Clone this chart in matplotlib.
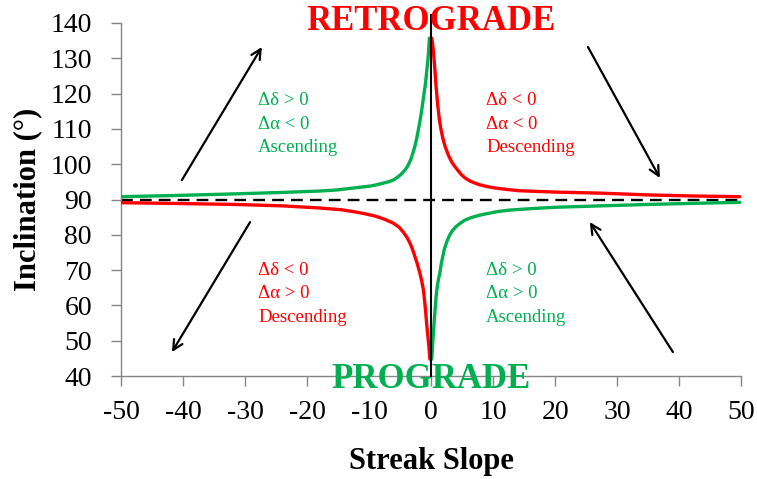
import matplotlib
matplotlib.use("Agg")
import matplotlib.pyplot as plt

plt.rcParams['font.family'] = ['Liberation Serif', 'DejaVu Serif']
plt.rcParams['axes.unicode_minus'] = False

# Streak slope vs. inclination, four branches
red_hi_x = [0.1, 0.25, 0.4, 0.6, 0.8, 1.05, 1.34, 1.6, 1.9, 2.26, 2.8, 3.33, 3.8, 4.3, 4.9, 5.48, 6.2, 7.0, 7.8, 8.7, 9.8, 11.0, 12.5, 14.1, 17.0, 20.0, 27.3, 35.0, 42.0, 49.8]
red_hi_y = [135.7, 134.0, 131.4, 127.0, 122.0, 117.0, 112.5, 109.8, 107.3, 105.0, 102.5, 100.6, 99.4, 98.3, 97.0, 96.1, 95.3, 94.7, 94.2, 93.8, 93.4, 93.1, 92.8, 92.5, 92.3, 92.1, 91.8, 91.3, 91.0, 90.8]

green_hi_x = [-50.0, -42.0, -31.6, -24.0, -18.0, -15.2, -12.3, -10.8, -9.8, -8.7, -7.8, -6.9, -6.1, -5.5, -5.0, -4.6, -4.2, -3.8, -3.5, -3.2, -2.95, -2.6, -2.3, -2.0, -1.77, -1.5, -1.3, -1.1, -0.97, -0.8, -0.7, -0.55, -0.43, -0.27]
green_hi_y = [90.8, 91.1, 91.6, 92.0, 92.4, 92.7, 93.3, 93.6, 93.8, 94.2, 94.6, 95.0, 95.5, 96.2, 96.9, 97.6, 98.4, 99.4, 100.5, 101.7, 103.1, 105.2, 107.5, 110.3, 112.5, 115.5, 118.0, 120.6, 122.0, 124.7, 126.5, 129.0, 131.4, 135.7]

red_lo_x = [-50.0, -42.0, -31.6, -24.0, -18.0, -14.5, -12.3, -10.5, -9.0, -7.5, -6.1, -5.2, -4.5, -3.9, -3.4, -3.0, -2.6, -2.2, -1.8, -1.5, -1.24, -1.1, -0.95, -0.83, -0.73, -0.6, -0.45, -0.3, -0.2]
red_lo_y = [89.1, 88.9, 88.6, 88.2, 87.6, 87.1, 86.5, 85.9, 85.3, 84.4, 83.3, 82.2, 80.8, 79.3, 77.6, 75.9, 73.8, 71.6, 69.1, 66.8, 64.4, 62.2, 59.5, 57.2, 55.0, 52.6, 50.0, 47.2, 44.8]

green_lo_x = [0.1, 0.2, 0.3, 0.4, 0.48, 0.6, 0.7, 0.8, 0.92, 1.05, 1.2, 1.45, 1.65, 1.87, 2.15, 2.5, 2.9, 3.4, 4.0, 4.7, 5.5, 6.5, 7.7, 9.0, 10.8, 12.7, 16.0, 20.0, 27.3, 35.0, 42.0, 49.8]
green_lo_y = [44.8, 47.6, 50.5, 53.0, 55.0, 57.8, 60.0, 62.3, 64.4, 66.0, 67.5, 69.6, 71.9, 73.8, 76.0, 77.9, 79.6, 81.1, 82.3, 83.3, 84.2, 84.9, 85.5, 86.0, 86.6, 87.0, 87.4, 87.8, 88.2, 88.6, 88.9, 89.2]

x_ticks = list(range(-50, 51, 10))
y_ticks = list(range(40, 141, 10))

RED = '#FF0000'
GREEN = '#00B050'

fig = plt.figure(figsize=(7.57, 4.79), dpi=100)
ax = fig.add_axes([0.160, 0.215, 0.819, 0.737])

ax.set_xlim(-50, 50)
ax.set_ylim(40, 140)

for xs, ys, c in [(red_hi_x, red_hi_y, RED), (red_lo_x, red_lo_y, RED),
                  (green_hi_x, green_hi_y, GREEN), (green_lo_x, green_lo_y, GREEN)]:
    ax.plot(xs, ys, color=c, lw=2.4, solid_joinstyle='round', solid_capstyle='round', zorder=3)

# reference lines
ax.plot([-50, 50], [90, 90], color='black', lw=1.7, dashes=(5, 3), zorder=2)
ax.plot([0, 0], [40, 142.3], color='black', lw=1.5, zorder=4, clip_on=False)

# direction arrows
arrows = [((-40.2, 95.5), (-27.3, 133.2)),
          ((25.3, 133.2), (36.9, 96.1)),
          ((-29.2, 83.6), (-41.8, 46.8)),
          ((39.0, 46.8), (25.6, 83.6))]
for tail, head in arrows:
    ax.annotate('', xy=head, xytext=tail,
                arrowprops=dict(arrowstyle='->,head_length=0.7,head_width=0.35',
                                color='black', lw=1.6, shrinkA=0, shrinkB=0))

# quadrant notes
notes = [(-27.9, 118.0, GREEN, ['Δδ > 0', 'Δα < 0', 'Ascending']),
         (8.9, 118.0, RED, ['Δδ < 0', 'Δα < 0', 'Descending']),
         (-27.9, 70.0, RED, ['Δδ < 0', 'Δα > 0', 'Descending']),
         (8.9, 70.0, GREEN, ['Δδ > 0', 'Δα > 0', 'Ascending'])]
for x0, y0, c, lines in notes:
    for i, s in enumerate(lines):
        ax.text(x0, y0 - i * 6.7, s, color=c, fontsize=13.5, ha='left', va='center', zorder=5)

ax.text(0, 140.4, 'RETROGRADE', color=RED, fontsize=25, fontweight='bold',
        ha='center', va='center', zorder=6, clip_on=False)
ax.text(0, 39.1, 'PROGRADE', color=GREEN, fontsize=25, fontweight='bold',
        ha='center', va='center', zorder=6, clip_on=False)

ax.set_xticks(x_ticks)
ax.set_yticks(y_ticks)
ax.tick_params(axis='both', direction='out', length=7, width=1, color='#868686',
               labelsize=20)
ax.tick_params(axis='y', pad=14)
ax.tick_params(axis='x', pad=10)
for side in ['top', 'right']:
    ax.spines[side].set_visible(False)
for side in ['left', 'bottom']:
    ax.spines[side].set_color('#868686')
    ax.spines[side].set_linewidth(1)

ax.set_xlabel('Streak Slope', fontsize=22, fontweight='bold', labelpad=16)
ax.set_ylabel('Inclination (°)', fontsize=22, fontweight='bold', labelpad=6)

fig.savefig('out.png', dpi=100)
